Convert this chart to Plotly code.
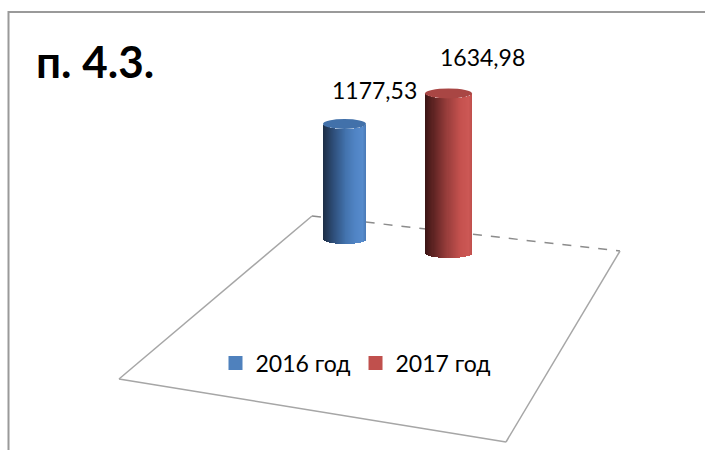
import numpy as np
import plotly.graph_objects as go

# ---- data ----
categories = ["2016 год", "2017 год"]
values = [1177.53, 1634.98]
value_labels = ["1177,53", "1634,98"]
title_text = "п. 4.3."

# ---- style ----
W, H = 705, 450
FONT = "Lato, Liberation Sans, Arial, sans-serif"
px_per_unit = 0.0976          # vertical scale (pixels per value unit)
cap_half_px = 5.0             # half-height of the cylinder ellipses in px
series_style = [
    dict(cx=344.5, w=43, py0=239,
         stops=[(0.0, "#1c2d45"), (0.25, "#2f507c"), (0.5, "#4170aa"), (0.75, "#5084c4"),
                (0.92, "#568bcc"), (1.0, "#4a7ab6")],
         cap="#4271aa", legend="#4f81bd", shift=(30, 34)),
    dict(cx=448.5, w=47, py0=253,
         stops=[(0.0, "#3a1414"), (0.25, "#6e2a29"), (0.5, "#9e403e"), (0.75, "#c4514e"),
                (0.92, "#cc5855"), (1.0, "#bf4f4c")],
         cap="#a94644", legend="#c0504d", shift=(34, 36)),
]
N_SLICES = 44


def hex2rgb(h):
    h = h.lstrip("#")
    return np.array([int(h[i:i + 2], 16) for i in (0, 2, 4)], float)


def grad(stops, t):
    for (t0, c0), (t1, c1) in zip(stops[:-1], stops[1:]):
        if t <= t1:
            f = (t - t0) / (t1 - t0) if t1 > t0 else 0
            c = hex2rgb(c0) * (1 - f) + hex2rgb(c1) * f
            return "rgb(%d,%d,%d)" % tuple(np.round(c))
    return stops[-1][1]


fig = go.Figure()
shapes = []
annotations = []

for k, (cat, val, lab, st) in enumerate(zip(categories, values, value_labels, series_style)):
    xa = "x" if k == 0 else "x2"
    ya = "y" if k == 0 else "y2"
    h_units = cap_half_px / px_per_unit
    for i in range(N_SLICES):
        left = -0.5 + i / N_SLICES
        wslice = 1.0 / N_SLICES
        tc = (left + wslice / 2) * 2
        e = h_units * np.sqrt(max(0.0, 1 - tc * tc))
        ww = min(wslice * 1.7, 0.5 - left)
        col = grad(st["stops"], (i + 0.5) / N_SLICES)
        fig.add_trace(go.Bar(
            x=[cat], y=[val], base=[-e], width=[ww], offset=[left],
            marker=dict(color=col, line=dict(width=0)),
            name=cat, legendgroup=cat, showlegend=False,
            xaxis=xa, yaxis=ya, hoverinfo="skip",
        ))
    # legend entry: square marker in the series colour (no visible point)
    fig.add_trace(go.Scatter(
        x=[cat], y=[None], mode="markers",
        marker=dict(symbol="square", size=14, color=st["legend"], line=dict(width=0)),
        name=cat, legendgroup=cat, showlegend=True, xaxis=xa, yaxis=ya, hoverinfo="skip",
    ))
    # top cap
    shapes.append(dict(type="circle", xref=xa, yref=ya, x0=-0.5, x1=0.5,
                       y0=val - h_units, y1=val + h_units,
                       fillcolor=st["cap"], line=dict(width=0), layer="above"))
    annotations.append(dict(xref=xa, yref=ya, x=0, y=val, text=lab, showarrow=False,
                            xshift=st["shift"][0], yshift=st["shift"][1],
                            font=dict(family=FONT, size=23, color="#000000")))

axes = {}
for k, st in enumerate(series_style):
    lo = -st["cx"] / st["w"]
    hi = lo + W / st["w"]
    ylo = (st["py0"] - H) / px_per_unit
    yhi = st["py0"] / px_per_unit
    sx = "xaxis" if k == 0 else "xaxis2"
    sy = "yaxis" if k == 0 else "yaxis2"
    axes[sx] = dict(domain=[0, 1], range=[lo, hi], visible=False, type="category",
                    anchor="y" if k == 0 else "y2", fixedrange=True)
    axes[sy] = dict(domain=[0, 1], range=[ylo, yhi], visible=False,
                    anchor="x" if k == 0 else "x2", fixedrange=True)


def P(x, y):
    return x / W, 1 - y / H


# floor (decorative)
bl, br = P(312, 216), P(620, 251)
fr, fl = P(506, 442), P(119, 379)
grey = "#a6a6a6"
shapes.append(dict(type="line", xref="paper", yref="paper", x0=bl[0], y0=bl[1], x1=br[0], y1=br[1],
                   line=dict(color="#8c8c8c", width=1.5, dash="dash"), layer="below"))
for a, b in [(bl, fl), (fl, fr), (fr, br)]:
    shapes.append(dict(type="line", xref="paper", yref="paper", x0=a[0], y0=a[1], x1=b[0], y1=b[1],
                       line=dict(color=grey, width=1.5), layer="below"))
# outer frame
fa, fb = P(8.5, 12), P(720, 470)
shapes.append(dict(type="rect", xref="paper", yref="paper", x0=fa[0], y0=fb[1], x1=fb[0], y1=fa[1],
                   line=dict(color="#9a9a9a", width=2), layer="below"))

tx, ty = P(34, 61)
annotations.append(dict(xref="paper", yref="paper", x=tx, y=ty, xanchor="left", yanchor="middle",
                        text="<b>%s</b>" % title_text, showarrow=False,
                        font=dict(family=FONT, size=44, color="#000000")))

lx, ly = P(356, 363)
fig.update_layout(
    width=W, height=H, margin=dict(l=0, r=0, t=0, b=0, pad=0),
    paper_bgcolor="white", plot_bgcolor="rgba(0,0,0,0)",
    barmode="overlay", bargap=0,
    showlegend=True,
    legend=dict(orientation="h", x=lx, y=ly, xanchor="center", yanchor="middle",
                font=dict(family=FONT, size=23, color="#000000"),
                itemwidth=30, tracegroupgap=0,
                bgcolor="rgba(0,0,0,0)", itemclick=False, itemdoubleclick=False),
    shapes=shapes, annotations=annotations,
    **axes,
)

fig.write_html("out.html", config={"displayModeBar": False, "staticPlot": True},
               post_script="document.body.style.margin='0';document.body.style.overflow='hidden';")
